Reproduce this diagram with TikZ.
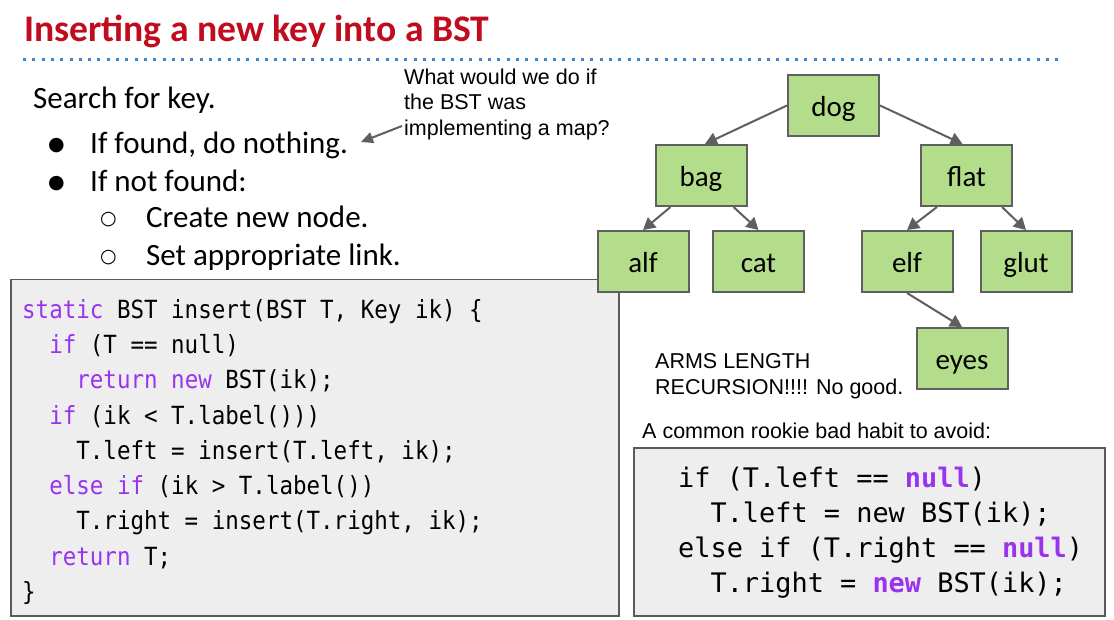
\documentclass[tikz,border=0pt]{standalone}
\usepackage{fontspec}
\setmainfont{Carlito}
\newfontfamily\arialf{Liberation Sans}
\newfontfamily\codef[FakeStretch=0.9]{DejaVu Sans Mono}
\newfontfamily\codeg{DejaVu Sans Mono}
\newfontfamily\symf{DejaVu Sans}
\usetikzlibrary{arrows.meta}
\definecolor{titlered}{RGB}{192,12,30}
\definecolor{dotblue}{RGB}{61,133,198}
\definecolor{kw}{RGB}{153,51,238}
\definecolor{nodegreen}{RGB}{180,221,139}
\definecolor{edgegray}{RGB}{95,95,95}
\definecolor{boxgray}{RGB}{238,238,238}
\definecolor{boxline}{RGB}{90,90,90}
\begin{document}
\begin{tikzpicture}[x=1pt,y=-1pt,
  tnode/.style={draw=edgegray,line width=2pt,fill=nodegreen,minimum width=91pt,minimum height=61pt,inner sep=0pt,
     font=\fontsize{29}{32}\selectfont,text height=22pt,text depth=0pt},
  link/.style={draw=edgegray,line width=2pt,-{Triangle[length=12pt,width=13pt]}},
  cbox/.style={draw=boxline,line width=1.5pt,fill=boxgray},
  bodytext/.style={anchor=base west,inner sep=0pt,font=\fontsize{31}{36}\selectfont},
  notetext/.style={anchor=base west,inner sep=0pt,font=\arialf\fontsize{21.5}{25}\selectfont},
  codeA/.style={anchor=base west,inner sep=0pt,font=\codef\fontsize{25}{35}\selectfont},
  codeB/.style={anchor=base west,inner sep=0pt,font=\codeg\fontsize{26.9}{35}\selectfont},
  bul/.style={anchor=base,inner sep=0pt,font=\symf\fontsize{19}{20}\selectfont}]
\useasboundingbox[fill=white] (0,0) rectangle (1114,620);

% title and dotted rule
\node[anchor=base west,inner sep=0pt,text=titlered,font=\bfseries\fontsize{37.6}{40}\selectfont] (title) at (24,42) {Inserting a new key into a BST};
\coordinate (r1) at (23,60);
\coordinate (r2) at (1058,60);
\draw[dotblue,line width=3pt,dash pattern=on 3pt off 6.3pt] (r1) -- (r2);

% left text
\node[bodytext] (search) at (33,108.5) {Search for key.};
\node[bul] (b1) at (56.5,151) {●};
\node[bodytext] (found) at (90,153.5) {If found, do nothing.};
\node[bul] (b2) at (56.5,189) {●};
\node[bodytext] (notfound) at (90,191.5) {If not found:};
\node[bul] (b3) at (108.5,225) {○};
\node[bodytext] (create) at (146,227.5) {Create new node.};
\node[bul] (b4) at (108.5,263) {○};
\node[bodytext] (setlink) at (146,265.5) {Set appropriate link.};

% annotation
\node[notetext] (q1) at (404,84.5) {What would we do if};
\node[notetext] (q2) at (404,110) {the BST was};
\node[notetext] (q3) at (404,135.5) {implementing a map?};
\coordinate (qs) at (402,126);
\coordinate (qe) at (361,142);
\draw[draw=edgegray,line width=2pt,-{Triangle[length=12pt,width=11pt]}] (qs) -- (qe);

% code box 1
\node[cbox,anchor=north west,minimum width=608pt,minimum height=336pt,inner sep=0pt] (box1) at (10,279) {};
\node[codeA] (c1) at (22,318.3) {\textcolor{kw}{static} BST insert(BST T, Key ik) \{};
\node[codeA] (c2) at (22,353.5) {\phantom{xx}\textcolor{kw}{if} (T == null)};
\node[codeA] (c3) at (22,388.8) {\phantom{xxxx}\textcolor{kw}{return} \textcolor{kw}{new} BST(ik);};
\node[codeA] (c4) at (22,424) {\phantom{xx}\textcolor{kw}{if} (ik < T.label()))};
\node[codeA] (c5) at (22,459.3) {\phantom{xxxx}T.left = insert(T.left, ik);};
\node[codeA] (c6) at (22,494.5) {\phantom{xx}\textcolor{kw}{else} \textcolor{kw}{if} (ik > T.label())};
\node[codeA] (c7) at (22,529.8) {\phantom{xxxx}T.right = insert(T.right, ik);};
\node[codeA] (c8) at (22,565) {\phantom{xx}\textcolor{kw}{return} T;};
\node[codeA] (c9) at (22,600.3) {\}};

% tree
\node[tnode] (dog)  at (833.5,105.5) {dog};
\node[tnode] (bag)  at (701,175.5) {bag};
\node[tnode] (flat) at (966.5,175.5) {flat};
\node[tnode] (alf)  at (643,261.5) {alf};
\node[tnode] (cat)  at (758.5,261.5) {cat};
\node[tnode] (elf)  at (907,261.5) {elf};
\node[tnode] (glut) at (1026,261.5) {glut};
\node[tnode] (eyes) at (962,358.5) {eyes};
\draw[link] (dog.west) -- ([xshift=4pt]bag.north);
\draw[link] (dog.east) -- ([xshift=-4pt]flat.north);
\draw[link] ([xshift=16pt]bag.south west) -- (alf.north);
\draw[link] ([xshift=-14pt]bag.south east) -- (cat.north);
\draw[link] ([xshift=17pt]flat.south west) -- (elf.north);
\draw[link] ([xshift=-11pt]flat.south east) -- (glut.north);
\draw[link] (elf.south) -- (eyes.north);

% right notes
\node[notetext] (arms1) at (655,368) {ARMS LENGTH};
\node[notetext] (arms2) at (655,394) {RECURSION!!!! No good.};
\node[notetext] (rookie) at (642,438) {A common rookie bad habit to avoid:};

% code box 2
\node[cbox,anchor=north west,minimum width=471pt,minimum height=168pt,inner sep=0pt] (box2) at (633,447) {};
\node[codeB] (d1) at (678,487) {if (T.left == \textcolor{kw}{\bfseries null})};
\node[codeB] (d2) at (678,522.5) {\phantom{xx}T.left = new BST(ik);};
\node[codeB] (d3) at (678,557.5) {else if (T.right == \textcolor{kw}{\bfseries null})};
\node[codeB] (d4) at (678,592.5) {\phantom{xx}T.right = \textcolor{kw}{\bfseries new} BST(ik);};
\end{tikzpicture}
\end{document}
